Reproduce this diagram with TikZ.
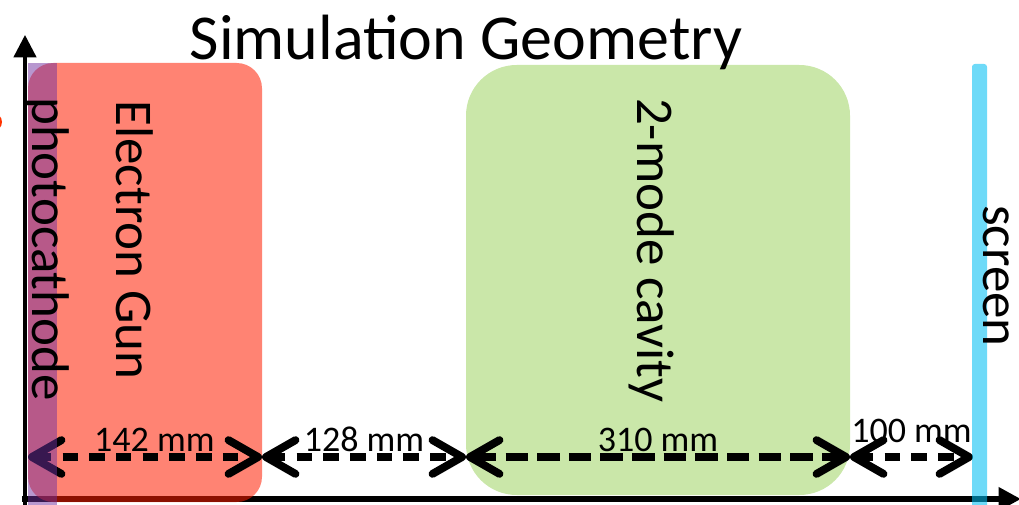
\documentclass[tikz,border=0pt]{standalone}
\usepackage{fontspec}
\setmainfont{Carlito}
\usetikzlibrary{arrows.meta}
\definecolor{gunred}{RGB}{255,30,0}
\definecolor{cathodepurple}{RGB}{112,48,160}
\definecolor{cavitygreen}{RGB}{202,231,169}
\definecolor{screencyan}{RGB}{0,190,243}
\definecolor{dotred}{RGB}{255,50,0}

\begin{document}
\begin{tikzpicture}[x=0.025cm, y=-0.025cm,
  axisline/.style={line width=#1, -{Triangle[length=16pt,width=16pt]}},
  dimline/.style={line width=5.6pt, dash pattern=on 11pt off 8pt,
    {Straight Barb[length=21pt,width=24pt,round]}-{Straight Barb[length=21pt,width=24pt,round]}},
  dimlabel/.style={font=\fontsize{25.6}{28}\selectfont, anchor=base, inner sep=0pt},
  vlabel/.style={font=\fontsize{37.7}{40}\selectfont, rotate=-90, anchor=base, inner sep=0pt}]
  \useasboundingbox (0,0) rectangle (1019,505);
  \clip (0,0) rectangle (1019,505);

  % Axes
  \coordinate (origin) at (25,499);
  \coordinate (ytip) at (25,35);
  \coordinate (xtip) at (1021,499);
  \draw[axisline=2.4pt] (25,506) -- (ytip);
  \draw[axisline=4.4pt] (22,499) -- (xtip);

  % Gun and cavity blocks
  \fill[gunred, fill opacity=0.55, rounded corners=18pt] (28,63) rectangle (262,502);
  \fill[cavitygreen, rounded corners=36pt] (466,65) rectangle (850,495);
  \fill[dotred] (-7,122) circle (9);

  % Distances
  \coordinate (p0) at (28,457);
  \coordinate (p1) at (262,457);
  \coordinate (p2) at (466,457);
  \coordinate (p3) at (850,457);
  \coordinate (p4) at (973,457);
  \draw[dimline] (p0) -- node[dimlabel, pos=0.54, yshift=3.6pt] (d142) {142 mm} (p1);
  \draw[dimline] (p1) -- node[dimlabel, yshift=3.6pt] (d128) {128 mm} (p2);
  \draw[dimline, dash pattern=on 16pt off 6.5pt] (p2) -- node[dimlabel, yshift=3.6pt] (d310) {310 mm} (p3);
  \draw[dimline] (p3) -- node[dimlabel, yshift=10pt] (d100) {100 mm} (p4);

  % Cathode and screen
  \fill[cathodepurple, fill opacity=0.5] (28,63) rectangle (57,505);
  \fill[screencyan, fill opacity=0.57, rounded corners=2pt] (972,64) rectangle (987,510);

  % Labels
  \node[vlabel] (cathode) at (32,249) {photocathode};
  \node[vlabel] (gun) at (116,240) {Electron Gun};
  \node[vlabel] (cavity) at (637,250) {2-mode cavity};
  \node[vlabel] (screen) at (983,276) {screen};
  \node[font=\fontsize{45.5}{50}\selectfont, anchor=base, inner sep=0pt] (title) at (466,60) {Simulation Geometry};
\end{tikzpicture}
\end{document}
